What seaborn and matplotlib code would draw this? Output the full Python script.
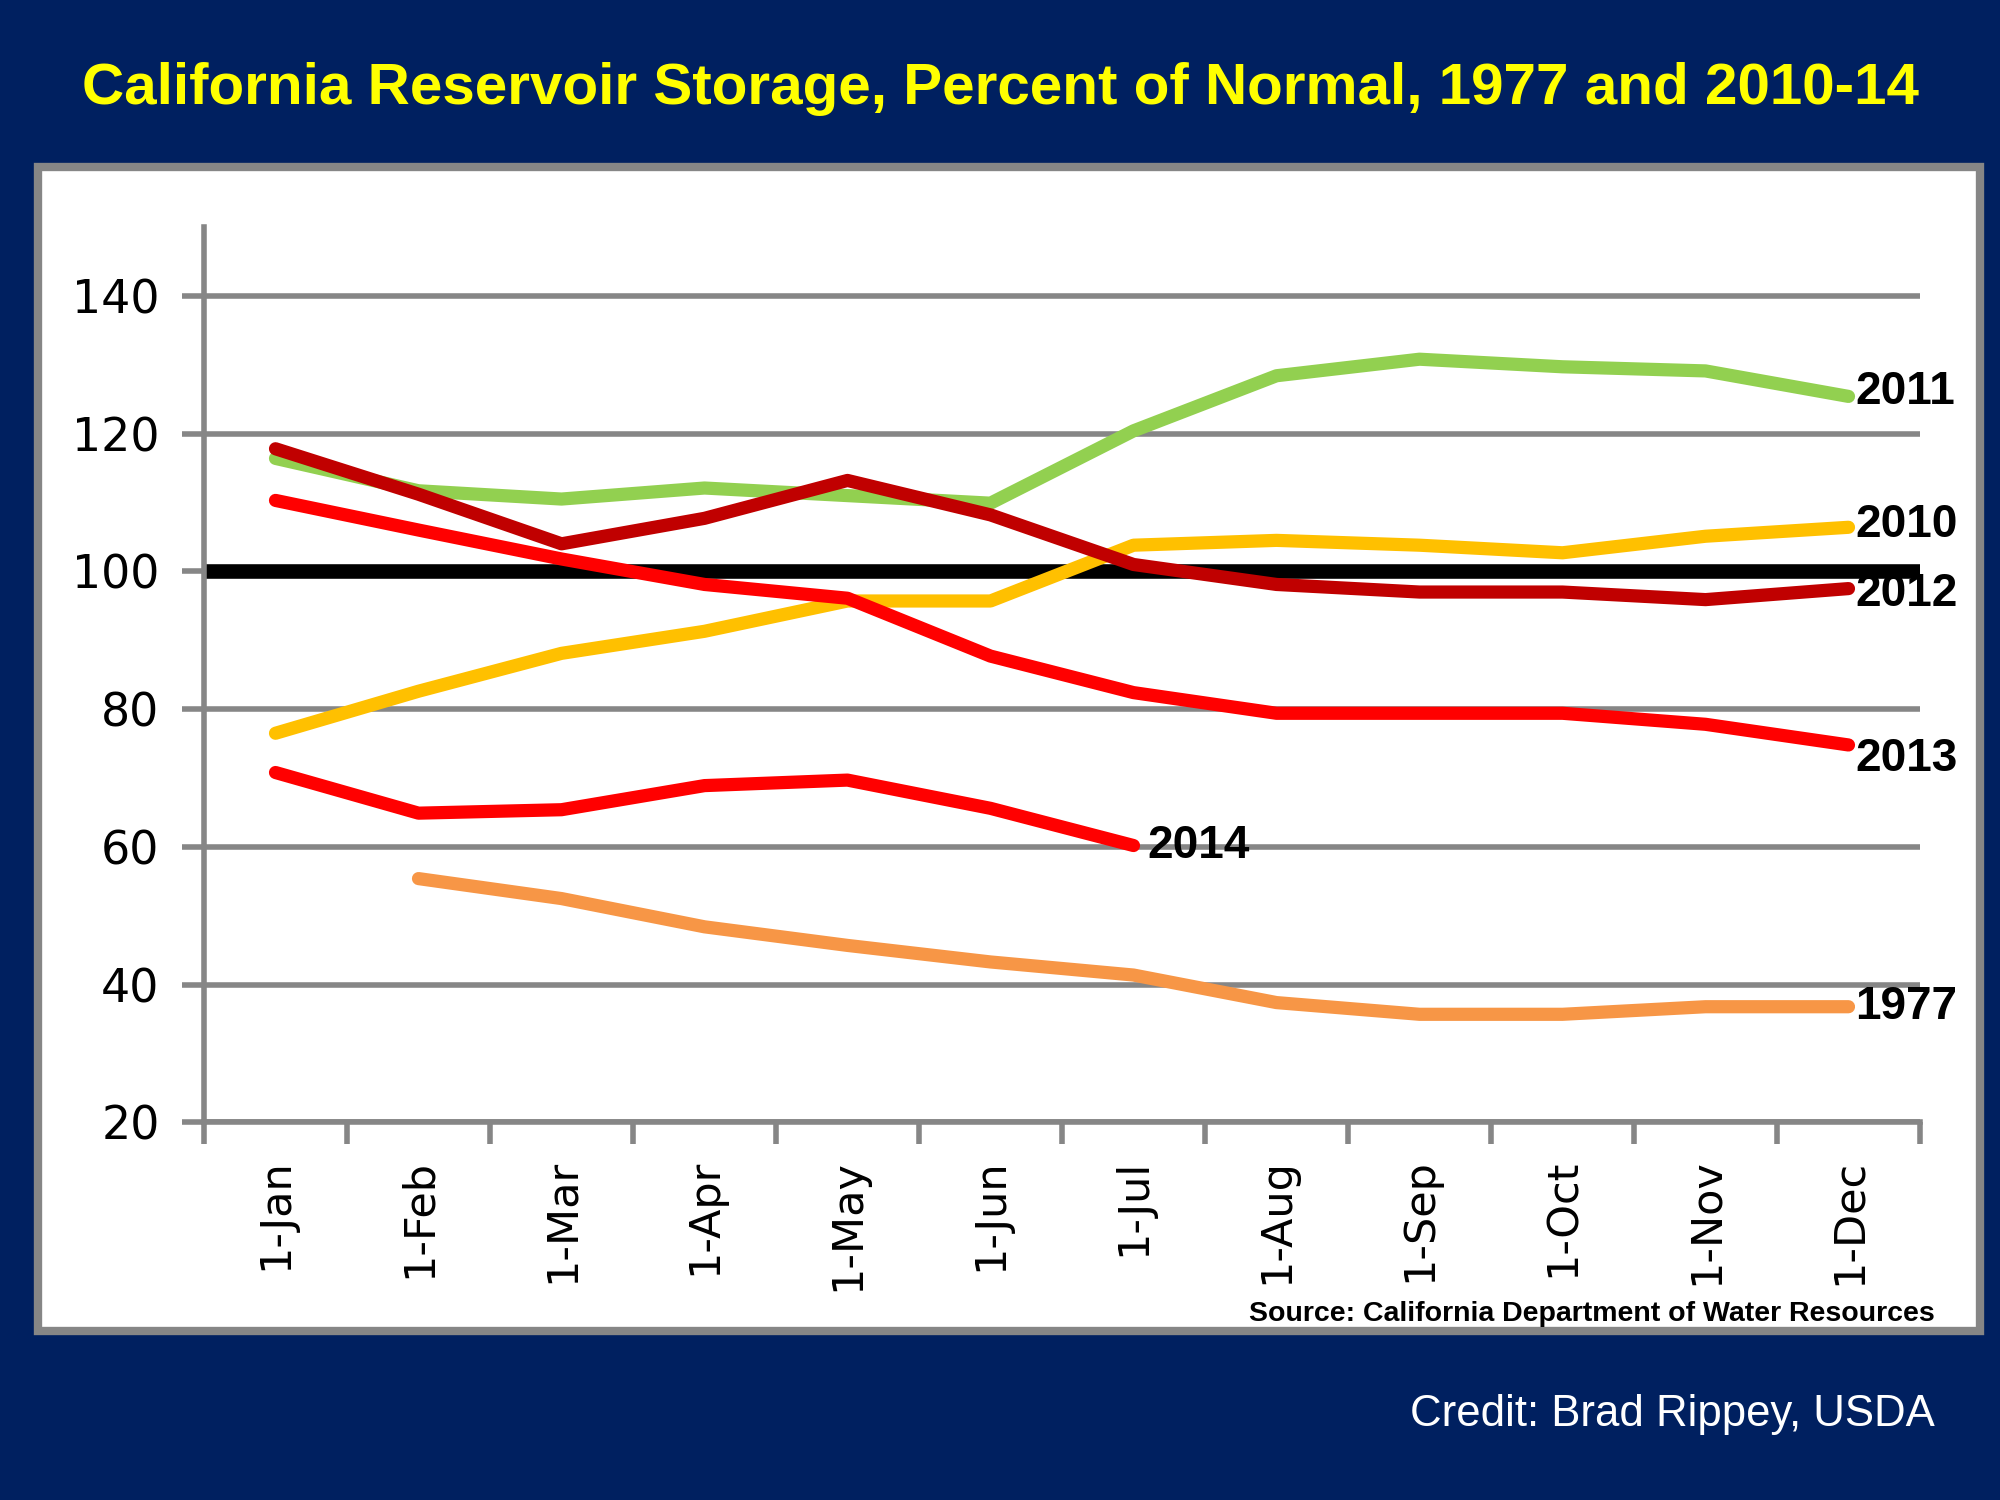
import pandas as pd
import matplotlib.pyplot as plt
import seaborn as sns
from matplotlib.patches import Rectangle
from matplotlib.ticker import FixedLocator
import numpy as np

# datos (porcentaje del normal)
months = ['1-Jan', '1-Feb', '1-Mar', '1-Apr', '1-May', '1-Jun',
          '1-Jul', '1-Aug', '1-Sep', '1-Oct', '1-Nov', '1-Dec']
y1977 = [np.nan, 55.4, 52.5, 48.4, 45.7, 43.3, 41.4, 37.4, 35.7, 35.7, 36.8, 36.8]
y2010 = [76.5, 82.6, 88.1, 91.3, 95.7, 95.7, 103.8, 104.5, 103.8, 102.7, 105.1, 106.4]
y2011 = [116.4, 111.7, 110.5, 112.1, 111.0, 109.9, 120.4, 128.4, 130.8, 129.7, 129.1, 125.4]
y2012 = [117.8, 111.2, 104.0, 107.7, 113.2, 108.2, 101.0, 98.1, 97.0, 97.0, 95.9, 97.5]
y2013 = [110.3, 106.0, 101.8, 98.1, 96.1, 87.7, 82.4, 79.4, 79.4, 79.4, 77.8, 74.8]
y2014 = [70.8, 64.9, 65.4, 68.9, 69.7, 65.6, 60.2]
normal = 100

series = {'1977': y1977, '2010': y2010, '2011': y2011,
          '2012': y2012, '2013': y2013, '2014': y2014}
colors = {'1977': '#F79646', '2010': '#FFC000', '2011': '#92D050',
          '2012': '#C00000', '2013': '#FF0000', '2014': '#FF0000'}

rows = []
for yr, vals in series.items():
    for i, v in enumerate(vals):
        rows.append({'year': yr, 'm': i, 'value': v})
df = pd.DataFrame(rows).dropna()

navy = '#002060'
gray = '#868686'

sns.set_theme(style='white')
plt.rcParams['font.family'] = ['DejaVu Sans']
narrow = ['Liberation Sans']

fig = plt.figure(figsize=(20, 15), dpi=100, facecolor=navy)

# panel blanco (detras de los ejes)
fig.patches.append(Rectangle((0.019, 0.113), 0.971, 0.776, transform=fig.transFigure,
                             facecolor='white', edgecolor=gray, linewidth=6, zorder=-1))

ax = fig.add_axes([0.102, 0.2517, 0.858, 0.597])
ax.set_facecolor('white')

for y in range(20, 150, 20):
    ax.axhline(y, color=gray, lw=4, zorder=1)
ax.axhline(normal, color='black', lw=10.5, zorder=2)

sns.lineplot(data=df, x='m', y='value', hue='year', palette=colors,
             linewidth=9.5, sort=False, legend=False, ax=ax, zorder=3)
for line in ax.get_lines():
    line.set_solid_capstyle('round')
    line.set_solid_joinstyle('round')

ax.set_xlim(-0.5, 11.5)
ax.set_ylim(20, 150)
ax.set_yticks(range(20, 150, 20))
ax.set_xticks(range(12))
ax.set_xticklabels(months, rotation=90)
ax.xaxis.set_minor_locator(FixedLocator(np.arange(-0.5, 12, 1)))
ax.tick_params(axis='x', which='major', length=0, pad=26, labelsize=31, colors='black')
ax.tick_params(axis='x', which='minor', length=16, width=4, color=gray, direction='out', bottom=True)
ax.tick_params(axis='y', length=16, width=4, color=gray, direction='out', left=True,
               labelsize=33, labelcolor='black', pad=16)
ax.set_xlabel('')
ax.set_ylabel('')
for s in ['top', 'right']:
    ax.spines[s].set_visible(False)
for s in ['left', 'bottom']:
    ax.spines[s].set_color(gray)
    ax.spines[s].set_linewidth(4)

# etiquetas de cada serie
offsets = {'2011': (5, 3), '2010': (5, 2), '2012': (5, -4),
           '2013': (5, -10), '2014': (10, 0), '1977': (5, 0)}
for yr, vals in series.items():
    last = len(vals) - 1
    ax.annotate(yr, (last, vals[last]), xytext=offsets[yr], textcoords='offset points',
                ha='left', va='center', fontsize=33, fontweight='bold',
                family=narrow, color='black', zorder=5)

fig.text(0.5, 0.941, 'California Reservoir Storage, Percent of Normal, 1977 and 2010-14',
         ha='center', va='center', color='#FFFF00', fontsize=42, fontweight='bold', family=narrow)
fig.text(0.9675, 0.124, 'Source: California Department of Water Resources',
         ha='right', va='center', color='black', fontsize=20.5, fontweight='bold', family=narrow)
fig.text(0.9675, 0.057, 'Credit: Brad Rippey, USDA',
         ha='right', va='center', color='white', fontsize=31.5, family=narrow)

fig.savefig('out.png', dpi=100, facecolor=navy)
